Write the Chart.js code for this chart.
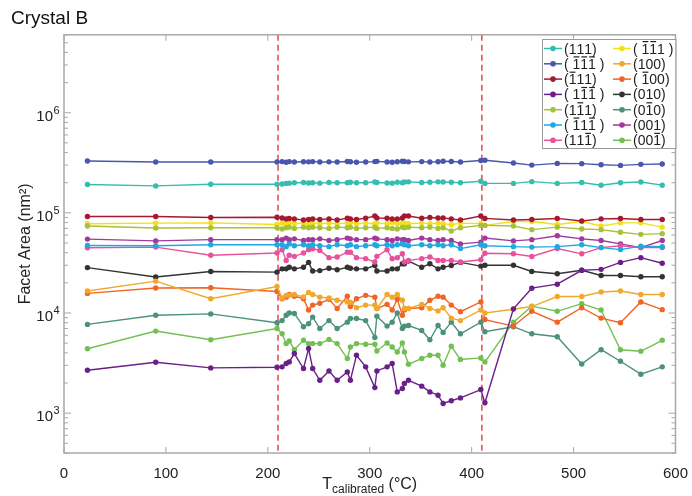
<!DOCTYPE html>
<html>
<head>
<meta charset="utf-8">
<script src="https://cdn.jsdelivr.net/npm/chart.js@4.4.1/dist/chart.umd.min.js"></script>
<style>
  html, body { margin: 0; padding: 0; background: #fff; }
  canvas { display: block; }
</style>
</head>
<body>
<canvas id="chart" width="692" height="496"></canvas>
<script>
// measurement temperatures (°C)
const temps = [23, 90, 144, 209, 214, 218, 221, 226, 235, 240, 244, 251, 260, 268,
  278, 281, 287, 296, 305, 307, 317, 322, 327, 332, 334, 338, 351, 359, 367, 372,
  380, 389, 409, 413, 441, 459, 484, 508, 527, 546, 566, 587];

// phase boundaries (dashed lines)
const phaseBounds = [210, 410];

// facet areas (nm^2)
const a111 = [192000, 186000, 193000, 193000, 194000, 197000, 198000, 200000, 201000, 199000, 200000, 198000, 201000, 200000,
  200000, 202000, 200000, 200000, 203000, 201000, 199000, 198000, 202000, 200000, 203000, 204000, 201000, 202000, 204000, 203000,
  202000, 200000, 207000, 197000, 197000, 205000, 197000, 201000, 189000, 200000, 203000, 189000];
const am1m1m1 = [330000, 322000, 322000, 322000, 325000, 320000, 325000, 322000, 324000, 323000, 325000, 322000, 323000, 322000,
  326000, 324000, 320000, 322000, 325000, 327000, 322000, 320000, 324000, 328000, 326000, 323000, 325000, 322000, 324000, 328000,
  326000, 322000, 333000, 335000, 315000, 300000, 312000, 310000, 302000, 298000, 305000, 308000];
const am111 = [92000, 92000, 90000, 90500, 89000, 87000, 88000, 87000, 85000, 86000, 87000, 86000, 87000, 85000,
  88500, 87000, 86000, 88500, 93000, 89000, 88500, 87000, 87000, 89000, 93000, 93000, 88500, 90000, 89000, 89000,
  87000, 85000, 93000, 88000, 85000, 86000, 88000, 83000, 87000, 88000, 86000, 86000];
const a1m1m1 = [2680, 3220, 2830, 2870, 2900, 3130, 3250, 3940, 2790, 4420, 2790, 2130, 2640, 2130,
  2580, 2130, 3790, 2900, 1800, 2640, 2900, 3130, 1630, 1760, 1980, 2130, 1860, 1630, 1510, 1250,
  1330, 1420, 1720, 1270, 11000, 17700, 19400, 26700, 27300, 32000, 35700, 31400];
const a1m11 = [74000, 70500, 71000, 71000, 69000, 71000, 72000, 70000, 72000, 71000, 72000, 71000, 70000, 72000,
  71000, 72000, 70000, 71000, 72000, 70000, 71000, 70000, 69000, 72000, 71000, 72000, 71000, 72000, 70000, 71000,
  66000, 71000, 75000, 75000, 74000, 68000, 72000, 69000, 68000, 64000, 61000, 62000];
const am11m1 = [47300, 47000, 48000, 48000, 48000, 46000, 49000, 47000, 48000, 47000, 48000, 47000, 46000, 48000,
  47000, 48000, 46000, 47000, 48000, 47000, 48000, 47000, 48000, 49000, 48000, 47000, 48000, 47000, 48000, 47000,
  48000, 44000, 48000, 47000, 46000, 45500, 46000, 48000, 45000, 43000, 46500, 46000];
const a11m1 = [44900, 45500, 37800, 39700, 42900, 33500, 37700, 36800, 39700, 42900, 43800, 42200, 35700, 36200,
  40500, 40500, 35700, 34900, 32300, 36800, 42900, 34900, 35700, 39000, 32300, 33500, 34900, 36200, 33500, 33500,
  33500, 32300, 34000, 39500, 39000, 36700, 44000, 39000, 45000, 47000, 45000, 45000];
const am1m11 = [77900, 79000, 79500, 76500, 79000, 78000, 80000, 78000, 79000, 77000, 79000, 78000, 79000, 78000,
  79000, 80000, 78000, 79000, 78000, 79000, 78000, 80000, 78000, 79000, 79000, 78000, 79000, 78000, 79000, 78000,
  76000, 79000, 78000, 75000, 82000, 82000, 76500, 82000, 74000, 79500, 79500, 72000];
const a100 = [16600, 20800, 13900, 18400, 14100, 15000, 15000, 15300, 14500, 16000, 15300, 14400, 14100, 13400,
  12900, 12800, 11300, 12000, 12000, 11100, 15300, 14400, 15300, 13400, 11100, 11100, 12200, 11100, 10500, 11300,
  8900, 8400, 10700, 10000, 10900, 11600, 14600, 14600, 16200, 16600, 15300, 15300];
const am100 = [15700, 17800, 17900, 16400, 13900, 14400, 15300, 14700, 13900, 10700, 12000, 12500, 13700, 11100,
  14700, 11600, 13900, 15000, 14400, 11100, 12200, 10700, 13700, 9500, 10700, 11100, 11300, 13400, 14700, 14400,
  12000, 10300, 12900, 8600, 7400, 10400, 8100, 11300, 8900, 8000, 12900, 10800];
const a010 = [28400, 22900, 26000, 25600, 27600, 27600, 28600, 27600, 28600, 32000, 26300, 26500, 28000, 27000,
  28600, 28000, 27600, 27600, 29800, 26300, 26300, 27600, 27600, 31000, 31000, 33000, 28600, 31000, 27600, 28600,
  29800, 32000, 29400, 30000, 30000, 26000, 24700, 26700, 23700, 23700, 23000, 23000];
const a0m10 = [7700, 9500, 9800, 8000, 8400, 9500, 10000, 9900, 7300, 7800, 9100, 7000, 8400, 7000,
  8100, 8800, 8800, 8400, 5700, 9300, 7400, 8100, 10000, 7000, 7400, 7500, 6700, 5400, 7500, 6400,
  8100, 6200, 8100, 6500, 7300, 6200, 5800, 3100, 4300, 3300, 2450, 2900];
const a001 = [54700, 52500, 54000, 54000, 54000, 56000, 54000, 55000, 53000, 54000, 54000, 55000, 53000, 54000,
  56000, 55000, 54000, 54000, 56000, 55000, 54000, 53000, 55000, 54000, 54000, 53000, 56000, 54000, 53000, 54000,
  53000, 49000, 51000, 56000, 52500, 54000, 59000, 55000, 53000, 49000, 45000, 53000];
const a00m1 = [4400, 6600, 5400, 7000, 6200, 4950, 5260, 4310, 5340, 4950, 4950, 4950, 5430, 4950,
  3510, 4580, 4950, 4870, 4870, 4180, 5020, 4580, 4080, 5020, 4080, 3080, 3510, 3790, 3790, 3010,
  4650, 3430, 3560, 3250, 8100, 11700, 10400, 12400, 10700, 4300, 4150, 5340];

// legend columns (left column first, then right column)
const facetLabels = ['(111)', '( 1\u03051\u03051\u0305 )', '(1\u030511)', '( 11\u03051\u0305 )', '(11\u03051)', '( 1\u030511\u0305 )', '(111\u0305)',
  '( 1\u03051\u03051 )', '(100)', '( 1\u030500)', '(010)', '(01\u03050)', '(001)', '(001\u0305)'];
const facetColors = ['#35bdb0', '#4a56ae', '#a5182f', '#6a1f8a', '#a7c23a', '#1fa9e1', '#e8529c',
  '#f1e01c', '#f0a92c', '#f16424', '#333333', '#4b917b', '#a3399a', '#72c054'];
const facetValues = [a111, am1m1m1, am111, a1m1m1, a1m11, am11m1, a11m1,
  am1m11, a100, am100, a010, a0m10, a001, a00m1];

const datasets = facetLabels.map((lab, i) => ({
  label: lab,
  data: temps.map((t, j) => ({ x: t, y: facetValues[i][j] })),
  borderColor: facetColors[i],
  backgroundColor: facetColors[i],
  pointBackgroundColor: facetColors[i],
  pointBorderWidth: 0,
  pointRadius: 2.7,
  borderWidth: 1.4,
  tension: 0
}));

// draws a label, putting an overbar on chars followed by U+0305
function drawBarred(ctx, text, x, y) {
  const chars = Array.from(text);
  for (let i = 0; i < chars.length; i++) {
    const c = chars[i];
    if (c === '\u0305') continue;
    const w = ctx.measureText(c).width;
    ctx.fillText(c, x, y);
    if (chars[i + 1] === '\u0305') ctx.fillRect(x + 1, y - 12.5, w - 2, 1.2);
    x += w;
  }
}

const decor = {
  id: 'decor',
  beforeDatasetsDraw(chart) {
    const { ctx, chartArea: a, scales: { x } } = chart;
    ctx.save();
    ctx.strokeStyle = '#e8454a';
    ctx.lineWidth = 1.5;
    ctx.setLineDash([6, 4]);
    phaseBounds.forEach(t => {
      const px = x.getPixelForValue(t);
      ctx.beginPath();
      ctx.moveTo(px, a.top);
      ctx.lineTo(px, a.bottom);
      ctx.stroke();
    });
    ctx.restore();
  },
  afterDraw(chart) {
    const { ctx, chartArea: a, scales: { x, y } } = chart;
    ctx.save();
    // frame
    ctx.strokeStyle = '#a8a8a8';
    ctx.lineWidth = 1.5;
    ctx.strokeRect(a.left, a.top, a.right - a.left, a.bottom - a.top);

    // inward tick marks
    ctx.lineWidth = 1;
    ctx.beginPath();
    for (let t = 0; t <= 600; t += 100) {
      const px = x.getPixelForValue(t);
      ctx.moveTo(px, a.bottom); ctx.lineTo(px, a.bottom - 6);
      ctx.moveTo(px, a.top); ctx.lineTo(px, a.top + 6);
    }
    for (let e = 2; e <= 6; e++) {
      for (let m = 1; m <= 9; m++) {
        const v = m * Math.pow(10, e);
        if (v < y.min || v > y.max) continue;
        const py = y.getPixelForValue(v);
        const len = m === 1 ? 7 : 4;
        ctx.moveTo(a.left, py); ctx.lineTo(a.left + len, py);
        ctx.moveTo(a.right, py); ctx.lineTo(a.right - len, py);
      }
    }
    ctx.stroke();

    // y tick labels 10^n
    ctx.fillStyle = '#222';
    for (let e = 3; e <= 6; e++) {
      const py = y.getPixelForValue(Math.pow(10, e));
      ctx.font = '15px "Liberation Sans", Arial, sans-serif';
      ctx.textAlign = 'right';
      ctx.textBaseline = 'alphabetic';
      ctx.fillText('10', a.left - 11, py + 8);
      ctx.font = '11px "Liberation Sans", Arial, sans-serif';
      ctx.textAlign = 'left';
      ctx.fillText(String(e), a.left - 10.5, py + 1);
    }

    // y title
    ctx.save();
    ctx.translate(26, (a.top + a.bottom) / 2);
    ctx.rotate(-Math.PI / 2);
    ctx.font = '16px "Liberation Sans", Arial, sans-serif';
    ctx.textAlign = 'center';
    ctx.textBaseline = 'middle';
    ctx.fillText('Facet Area (nm\u00b2)', 0, 0);
    ctx.restore();

    // x title with subscript
    const big = '16px "Liberation Sans", Arial, sans-serif';
    const small = '12px "Liberation Sans", Arial, sans-serif';
    ctx.textAlign = 'left';
    ctx.textBaseline = 'alphabetic';
    ctx.font = big;
    const wT = ctx.measureText('T').width;
    const wU = ctx.measureText(' (\u00b0C)').width;
    ctx.font = small;
    const wS = ctx.measureText('calibrated').width;
    let tx = (a.left + a.right) / 2 - (wT + wS + wU) / 2;
    ctx.font = big;
    ctx.fillText('T', tx, 489);
    tx += wT;
    ctx.font = small;
    ctx.fillText('calibrated', tx, 493);
    tx += wS;
    ctx.font = big;
    ctx.fillText(' (\u00b0C)', tx, 489);

    // legend box, two columns
    const bx = 542, by = 39, bw = a.right - 542, bh = 109;
    ctx.fillStyle = '#fff';
    ctx.fillRect(bx, by, bw, bh);
    ctx.strokeStyle = '#9a9a9a';
    ctx.lineWidth = 1;
    ctx.strokeRect(bx + 0.5, by + 0.5, bw, bh);
    ctx.font = '14px "Liberation Sans", Arial, sans-serif';
    facetLabels.forEach((lab, i) => {
      const col = Math.floor(i / 7), row = i % 7;
      const x0 = col === 0 ? 544 : 613;
      const cy = 48.5 + row * 15.3;
      ctx.strokeStyle = facetColors[i];
      ctx.fillStyle = facetColors[i];
      ctx.lineWidth = 1.5;
      ctx.beginPath();
      ctx.moveTo(x0, cy); ctx.lineTo(x0 + 18, cy);
      ctx.stroke();
      ctx.beginPath();
      ctx.arc(x0 + 9, cy, 2.8, 0, Math.PI * 2);
      ctx.fill();
      ctx.fillStyle = '#222';
      drawBarred(ctx, lab, x0 + 20, cy + 5);
    });
    ctx.restore();
  }
};

Chart.defaults.font.family = '"Liberation Sans", Arial, sans-serif';

new Chart(document.getElementById('chart'), {
  type: 'line',
  data: { datasets },
  options: {
    responsive: false,
    animation: false,
    layout: { padding: { left: 11, right: 15, top: 0, bottom: 0 } },
    plugins: {
      legend: { display: false },
      tooltip: { enabled: false },
      title: {
        display: true,
        text: 'Crystal B',
        align: 'start',
        color: '#111',
        font: { size: 19, weight: 'normal' },
        padding: { top: 7, bottom: 5 }
      }
    },
    scales: {
      x: {
        type: 'linear',
        min: 0,
        max: 600,
        ticks: { stepSize: 100, color: '#222', font: { size: 15 }, padding: 4, maxRotation: 0 },
        grid: { display: false },
        border: { display: false },
        afterFit: s => { s.height = 43; }
      },
      y: {
        type: 'logarithmic',
        min: 400,
        max: 6000000,
        ticks: { display: false },
        grid: { display: false },
        border: { display: false },
        afterFit: s => { s.width = 53; }
      }
    }
  },
  plugins: [decor]
});
</script>
</body>
</html>
